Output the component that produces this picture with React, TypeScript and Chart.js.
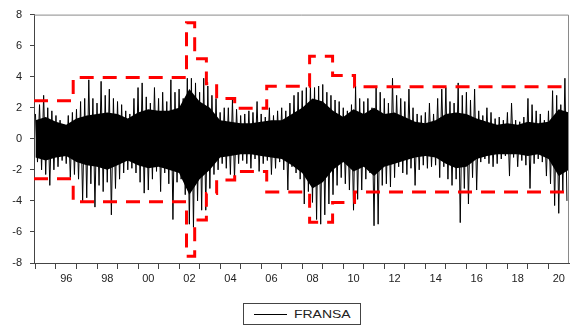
import React, { useEffect, useRef } from 'react';
import { Chart, registerables } from 'chart.js';

Chart.register(...registerables);

const seriesName = 'FRANSA';

// daily-return envelope, sampled every 0.2 year starting 1995.0 (peak up / peak down per slot)
const spikeStart = 1995;
const spikeStep = 0.2;
const highs = [
  1.6, 2.2, 2.8, 2.0, 1.8, 1.5, 1.2, 0.9, 1.5, 1.7, 1.9, 2.4, 2.6, 3.8, 2.6, 2.3, 3.7, 2.8, 3.2, 2.6, 2.4, 2.2, 1.8, 1.6, 2.6, 3.3, 3.6,
  2.7, 2.3, 3.3, 2.6, 3.0, 2.4, 3.8, 3.0, 3.2, 2.6, 3.9, 3.9, 3.6, 3.0, 3.9, 3.4, 2.8, 2.6, 1.7, 2.0, 2.0, 2.5, 1.9, 1.5, 1.6, 1.8, 1.7,
  2.4, 1.6, 1.4, 2.0, 1.5, 1.8, 2.0, 1.8, 2.3, 2.8, 3.0, 3.1, 3.3, 3.5, 3.3, 3.4, 3.5, 3.0, 2.8, 2.5, 2.4, 2.0, 1.8, 2.2, 3.4, 2.6, 2.4,
  2.6, 2.0, 3.4, 3.0, 2.6, 2.3, 3.9, 2.8, 2.6, 2.4, 3.2, 2.0, 1.6, 1.5, 1.7, 2.3, 1.6, 2.6, 3.2, 3.3, 2.4, 2.3, 3.6, 2.8, 3.0, 2.5,
  3.2, 1.8, 1.5, 2.0, 1.7, 1.3, 1.4, 1.2, 1.7, 2.3, 1.2, 1.1, 1.4, 2.6, 2.2, 1.8, 1.6, 1.2, 1.8, 3.1, 2.8, 2.2, 3.9,
];
const lows = [
  -1.5, -2.0, -2.3, -3.0, -2.0, -1.8, -1.4, -1.6, -2.5, -2.3, -2.6, -4.0, -3.8, -2.9, -4.4, -3.0, -3.4, -2.8, -4.9, -3.2, -2.6, -2.2, -2.0, -1.9, -2.2, -2.8, -3.5,
  -3.3, -2.6, -2.1, -3.4, -2.2, -2.9, -5.2, -2.8, -2.6, -3.6, -5.5, -5.7, -4.0, -4.6, -4.6, -3.2, -2.3, -2.0, -1.6, -1.9, -2.3, -2.6, -1.6, -1.4, -1.6, -1.9, -1.3,
  -2.1, -1.6, -1.4, -2.3, -1.9, -1.5, -2.0, -3.3, -1.8, -2.2, -2.6, -4.2, -3.4, -4.1, -5.2, -5.5, -4.9, -4.2, -3.6, -3.0, -2.5, -2.9, -3.3, -4.6, -3.9, -3.3, -2.6,
  -2.2, -5.6, -5.5, -3.0, -2.9, -3.1, -2.5, -1.8, -2.2, -2.3, -1.9, -3.0, -2.0, -1.7, -1.9, -1.8, -1.7, -2.5, -1.8, -2.6, -3.0, -2.6, -5.4, -3.2, -4.2, -2.5,
  -3.3, -1.5, -1.3, -1.6, -1.8, -1.6, -1.3, -1.1, -2.4, -1.2, -1.8, -1.4, -1.7, -3.2, -1.6, -1.3, -1.5, -2.4, -2.9, -4.3, -4.8, -3.4, -4.0,
];

// dense core of the series, every half year from 1995.0
const coreStart = 1995;
const coreStep = 0.5;
const coreHigh = [
  1.2, 1.4, 1.1, 0.9, 1.3, 1.5, 1.6, 1.7, 1.6, 1.3, 1.7, 1.9, 1.8, 1.8, 2.0, 3.2, 2.4, 2.0, 1.2, 1.1, 1.0, 1.0, 1.1, 1.2, 1.2, 1.6,
  2.0, 2.6, 2.4, 1.8, 1.4, 1.9, 1.6, 2.0, 1.6, 1.7, 1.4, 1.1, 1.0, 1.2, 1.6, 1.7, 1.6, 1.3, 1.1, 0.9, 1.0, 0.9, 1.1, 1.0, 1.1, 1.9, 1.7,
];
const coreLow = [
  -1.2, -1.4, -1.2, -1.1, -1.5, -1.7, -1.8, -2.0, -1.7, -1.4, -1.7, -1.9, -1.8, -2.0, -2.2, -3.6, -2.6, -2.0, -1.2, -1.1, -1.0, -1.0, -1.1, -1.2, -1.3, -1.7,
  -2.2, -3.2, -2.8, -2.0, -1.5, -2.1, -1.8, -2.4, -1.8, -1.6, -1.4, -1.2, -1.1, -1.2, -1.6, -1.9, -1.8, -1.3, -1.1, -1.0, -1.0, -1.0, -1.1, -1.0, -1.3, -2.4, -2.0,
];

// variance-regime bands (red dashed)
const bandStarts = [1994.93, 1996.84, 2002.36, 2002.76, 2003.33, 2003.83, 2004.71, 2006.27, 2008.36, 2009.48, 2010.55, 2021.0];
const bandUpper = [2.45, 3.95, 7.47, 5.15, 3.55, 2.6, 1.97, 3.38, 5.31, 4.08, 3.36, 3.36];
const bandLower = [-2.58, -4.06, -7.56, -5.23, -3.53, -2.65, -2.1, -3.43, -5.37, -4.1, -3.43, -3.43];

const xMin = 1994.93;
const xMax = 2021;
const xTickYears = Array.from({ length: 26 }, (_, i) => 1995 + i);
const yMin = -8;
const yMax = 8;
const yStep = 2;

const FONT = { family: '"Liberation Sans", Arial, sans-serif', size: 11 };

export default function App() {
  const ref = useRef<HTMLCanvasElement | null>(null);

  useEffect(() => {
    document.body.style.margin = '0';
    const canvas = ref.current;
    if (!canvas) return;

    const zig: { x: number; y: number }[] = [];
    highs.forEach((h, i) => {
      const t = spikeStart + i * spikeStep;
      zig.push({ x: t, y: h });
      zig.push({ x: t + spikeStep / 2, y: lows[i] });
    });
    const coreHi = coreHigh.map((v, i) => ({ x: coreStart + i * coreStep, y: v }));
    const coreLo = coreLow.map((v, i) => ({ x: coreStart + i * coreStep, y: v }));
    const up = bandStarts.map((x, i) => ({ x, y: bandUpper[i] }));
    const lo = bandStarts.map((x, i) => ({ x, y: bandLower[i] }));

    const frame = {
      id: 'frame',
      afterDatasetsDraw(chart: any) {
        const { ctx, chartArea: a } = chart;
        ctx.save();
        ctx.strokeStyle = '#8a8a8a';
        ctx.lineWidth = 1;
        ctx.beginPath();
        ctx.moveTo(a.left, a.top + 0.5);
        ctx.lineTo(a.right - 0.5, a.top + 0.5);
        ctx.lineTo(a.right - 0.5, a.bottom);
        ctx.stroke();
        ctx.restore();
      },
    };

    const chart = new Chart(canvas, {
      type: 'line',
      data: {
        datasets: [
          {
            label: 'upper',
            data: up,
            stepped: true,
            borderColor: '#ff0000',
            borderWidth: 3,
            borderDash: [14, 9],
            pointRadius: 0,
            fill: false,
          },
          {
            label: 'lower',
            data: lo,
            stepped: true,
            borderColor: '#ff0000',
            borderWidth: 3,
            borderDash: [14, 9],
            pointRadius: 0,
            fill: false,
          },
          {
            label: seriesName,
            data: zig,
            borderColor: '#000000',
            borderWidth: 1,
            pointRadius: 0,
            fill: false,
          },
          {
            label: 'coreHi',
            data: coreHi,
            borderColor: 'rgba(0,0,0,0)',
            borderWidth: 0,
            backgroundColor: '#000000',
            pointRadius: 0,
            fill: '+1',
          },
          {
            label: 'coreLo',
            data: coreLo,
            borderColor: 'rgba(0,0,0,0)',
            borderWidth: 0,
            pointRadius: 0,
            fill: false,
          },
        ],
      },
      options: {
        animation: false,
        responsive: false,
        devicePixelRatio: 1,
        layout: { padding: { left: 0, right: 1, top: 10, bottom: 0 } },
        plugins: { legend: { display: false }, tooltip: { enabled: false } },
        scales: {
          x: {
            type: 'linear',
            min: xMin,
            max: xMax,
            afterBuildTicks: (s: any) => {
              s.ticks = xTickYears.map((v) => ({ value: v }));
            },
            afterFit: (s: any) => {
              s.height = 66;
            },
            grid: { drawOnChartArea: false, tickLength: 6, color: '#444' },
            border: { color: '#444' },
            ticks: {
              autoSkip: false,
              maxRotation: 0,
              labelOffset: 10.3,
              padding: 3,
              color: '#222',
              font: FONT,
              callback: (v: any) => (Number(v) % 2 === 0 ? String(v).slice(2) : ''),
            },
          },
          y: {
            min: yMin,
            max: yMax,
            afterFit: (s: any) => {
              s.width = 34;
            },
            grid: { drawOnChartArea: false, tickLength: 4, color: '#444' },
            border: { color: '#444' },
            ticks: { stepSize: yStep, padding: 8, color: '#222', font: FONT },
          },
        },
      },
      plugins: [frame],
    } as any);

    return () => chart.destroy();
  }, []);

  return (
    <div style={{ position: 'relative', width: 570, height: 329, background: '#fff' }}>
      <canvas ref={ref} width={570} height={329} style={{ display: 'block' }} />
      <div
        style={{
          position: 'absolute',
          left: 243,
          top: 303,
          width: 118,
          height: 22,
          border: '1px solid #444',
          boxSizing: 'border-box',
          background: '#fff',
        }}
      >
        <div style={{ position: 'absolute', left: 10, top: 10, width: 33, height: 1, background: '#000' }} />
        <span
          style={{
            position: 'absolute',
            left: 50,
            top: 3,
            fontFamily: '"Liberation Sans", Arial, sans-serif',
            fontSize: 11,
            lineHeight: '14px',
            color: '#222',
            display: 'inline-block',
            transform: 'scaleX(1.27)',
            transformOrigin: 'left center',
          }}
        >
          {seriesName}
        </span>
      </div>
    </div>
  );
}
